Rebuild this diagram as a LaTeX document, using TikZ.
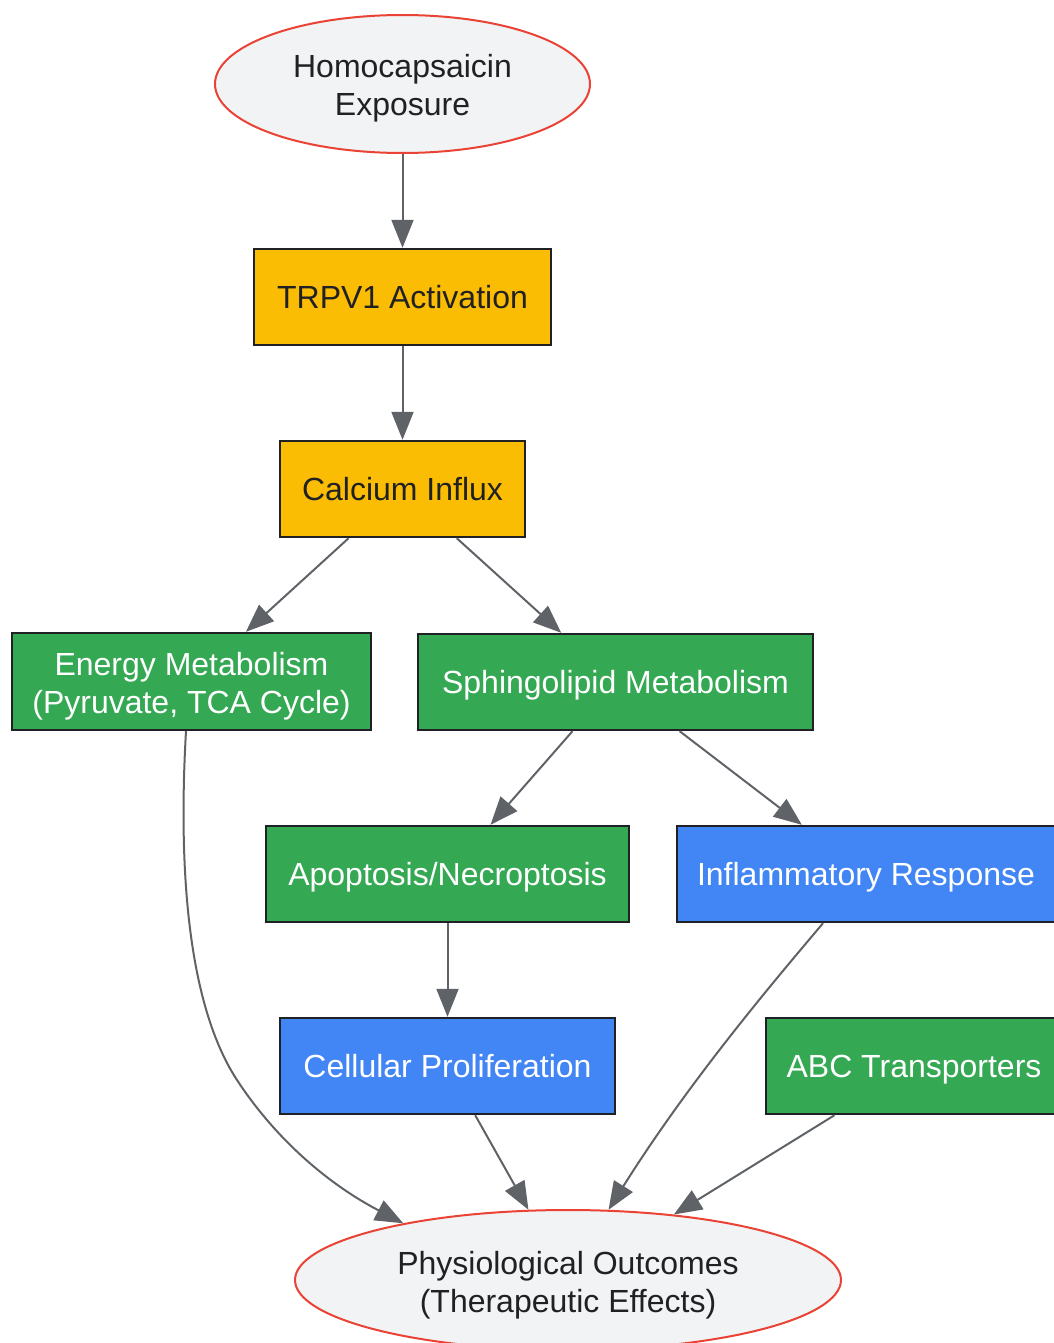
\documentclass[tikz,border=0pt]{standalone}
\usepackage{fontspec}
\setmainfont{Liberation Sans}
\usetikzlibrary{shapes.geometric,arrows.meta,calc}
\definecolor{yel}{HTML}{FBBC04}
\definecolor{grn}{HTML}{34A853}
\definecolor{blu}{HTML}{4285F4}
\definecolor{elfill}{HTML}{F1F3F4}
\definecolor{elline}{HTML}{EA4335}
\definecolor{arr}{HTML}{5F6368}
\definecolor{txt}{HTML}{202124}
\definecolor{bord}{HTML}{202124}
\begin{document}
\begin{tikzpicture}[x=0.5pt,y=-0.5pt,
 every node/.style={font=\fontsize{16pt}{19pt}\selectfont, align=center, inner sep=0pt, text height=11.45pt, text depth=0pt},
 twoline/.style={text height=32pt, text depth=0pt},
 boxbase/.style={rectangle, draw=bord, line width=1.2pt, minimum height=48pt},
 yelbox/.style={boxbase, fill=yel, text=txt},
 grnbox/.style={boxbase, fill=grn, text=white},
 blubox/.style={boxbase, fill=blu, text=white},
 oval/.style={ellipse, draw=elline, line width=1pt, fill=elfill, text=txt},
 conn/.style={draw=arr, line width=1pt, -{Triangle[length=14pt,width=11pt]}}]
\useasboundingbox (0,0) rectangle (1054,1343);
\node[oval, twoline, minimum width=187.5pt, minimum height=69pt] (hom) at (402.5,84) {Homocapsaicin\\Exposure};
\node[yelbox, minimum width=148.5pt] (trp) at (402.5,297) {TRPV1 Activation};
\node[yelbox, minimum width=122.5pt] (cal) at (402.5,489) {Calcium Influx};
\node[grnbox, twoline, minimum width=179.5pt, minimum height=48.5pt] (en) at (191.5,681.5) {Energy Metabolism\\(Pyruvate, TCA Cycle)};
\node[grnbox, minimum width=197.5pt] (sph) at (615.5,682) {Sphingolipid Metabolism};
\node[grnbox, minimum width=181.5pt] (apo) at (447.5,874) {Apoptosis/Necroptosis};
\node[blubox, minimum width=189pt] (inf) at (866,874) {Inflammatory Response};
\node[blubox, minimum width=167.5pt] (cel) at (447.5,1066) {Cellular Proliferation};
\node[grnbox, minimum width=148pt] (abc) at (914,1066) {ABC Transporters};
\node[oval, twoline, minimum width=273pt, minimum height=70pt] (out) at (568,1280) {Physiological Outcomes\\(Therapeutic Effects)};
\draw[conn] (hom) -- (trp);
\draw[conn] (trp) -- (cal);
\draw[conn] (cal) -- (en);
\draw[conn] (cal) -- (sph);
\draw[conn] (sph) -- (apo);
\draw[conn] (sph) -- (inf);
\draw[conn] (apo) -- (cel);
\draw[conn] (cel) -- (out);
\draw[conn] (abc) -- (out);
\draw[conn] ($(en.south)+(-5.5,0)$) .. controls (178,870) and (188,1005) .. (237,1080) .. controls (277,1141) and (330,1185) .. (out.161);
\draw[conn] ($(inf.south)+(-43,0)$) .. controls (775,980) and (690,1080) .. (out.60);
\end{tikzpicture}
\end{document}
